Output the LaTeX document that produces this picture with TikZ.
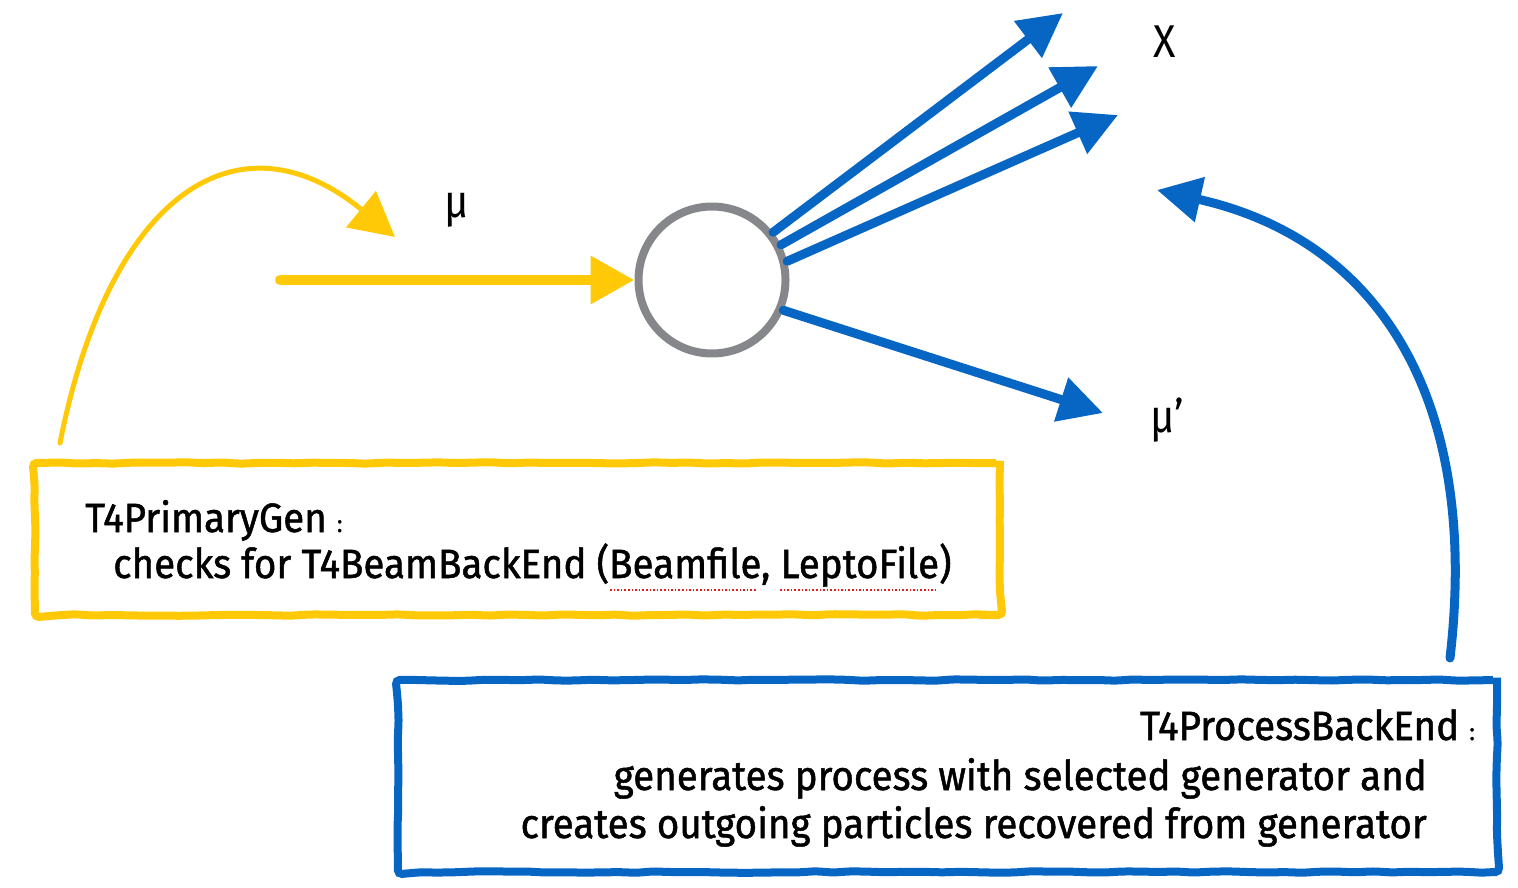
\documentclass[tikz,border=0pt]{standalone}
\usepackage{fontspec}
\setmainfont{Fira Sans}[FakeStretch=0.94,FakeBold=1.2]
\newfontfamily\labelfont{Fira Sans}[FakeStretch=0.9]
\usetikzlibrary{arrows.meta,decorations.pathmorphing}
\definecolor{yel}{HTML}{FFC907}
\definecolor{blu}{HTML}{0766C4}
\definecolor{gry}{HTML}{85878B}
\definecolor{spell}{HTML}{E02020}
\begin{document}
\begin{tikzpicture}[x=1pt,y=-1pt,
  ybox/.style={draw=yel,line width=8pt,rounded corners=4pt,minimum width=965pt,minimum height=152pt,inner sep=0pt,
    decorate,decoration={random steps,segment length=18pt,amplitude=0.8pt}},
  bbox/.style={draw=blu,line width=8pt,rounded corners=4pt,minimum width=1099pt,minimum height=192pt,inner sep=0pt,
    decorate,decoration={random steps,segment length=18pt,amplitude=0.8pt}},
  txt/.style={inner sep=0pt,font=\fontsize{41}{48}\selectfont},
  lbl/.style={inner sep=0pt,font=\labelfont\fontsize{46}{52}\selectfont},
  vtx/.style={circle,draw=gry,line width=8pt,minimum size=147pt,inner sep=0pt},
  yarr/.style={draw=yel,line cap=round,-{Triangle[length=44pt,width=46pt]}},
  barr/.style={draw=blu,line width=9pt,line cap=round,-{Triangle[length=44pt,width=44pt]}},
  spellmark/.style={draw=spell,dotted,line width=1.6pt}
]
\useasboundingbox (0,0) rectangle (1518,888);

% boxes
\node[ybox] (pbox) at (517.5,539) {};
\node[bbox] (bbx) at (947.5,776) {};

% box texts
\node[txt,anchor=base west] (pt1) at (85,532) {T4PrimaryGen {\fontsize{24}{24}\selectfont :}};
\node[txt,anchor=base west] (pt2) at (113,578) {checks for T4BeamBackEnd (Beamfile, LeptoFile)};
\node[txt,anchor=base east] (bt1) at (1475,740) {T4ProcessBackEnd {\fontsize{24}{24}\selectfont :}};
\node[txt,anchor=base east] (bt2) at (1427,790) {generates process with selected generator and};
\node[txt,anchor=base east] (bt3) at (1427,838) {creates outgoing particles recovered from generator};

% spell-check underlines
\coordinate (s1a) at (610,590); \coordinate (s1b) at (757,590);
\coordinate (s2a) at (780,590); \coordinate (s2b) at (935,590);
\draw[spellmark] (s1a) -- (s1b);
\draw[spellmark] (s2a) -- (s2b);

% vertex
\node[vtx] (v) at (712,280) {};

% labels
\node[lbl] (lx) at (1165,42) {X};
\node[lbl] (lmu) at (457,210) {μ};
\node[lbl] (lmup) at (1167,420) {μ’};

% yellow arrows
\coordinate (ys) at (280,280);
\draw[yarr,line width=10pt] (ys) -- (v.west);
\coordinate (yc0) at (60,443);
\coordinate (yc1) at (395,237);
\draw[yarr,line width=5pt] (yc0) .. controls (110,190) and (240,110) .. (yc1);

% blue outgoing arrows
\coordinate (x1) at (1063,13);
\coordinate (x2) at (1098,66);
\coordinate (x3) at (1118,115);
\coordinate (m2) at (1103,413);
\draw[barr] (v.38) -- (x1);
\draw[barr] (v.27) -- (x2);
\draw[barr] (v.14) -- (x3);
\draw[barr] (v.-23) -- (m2);

% big blue curved arrow
\coordinate (bc0) at (1450,658);
\coordinate (bc1) at (1157,190);
\draw[barr] (bc0) .. controls (1480,400) and (1380,240) .. (bc1);
\end{tikzpicture}
\end{document}
